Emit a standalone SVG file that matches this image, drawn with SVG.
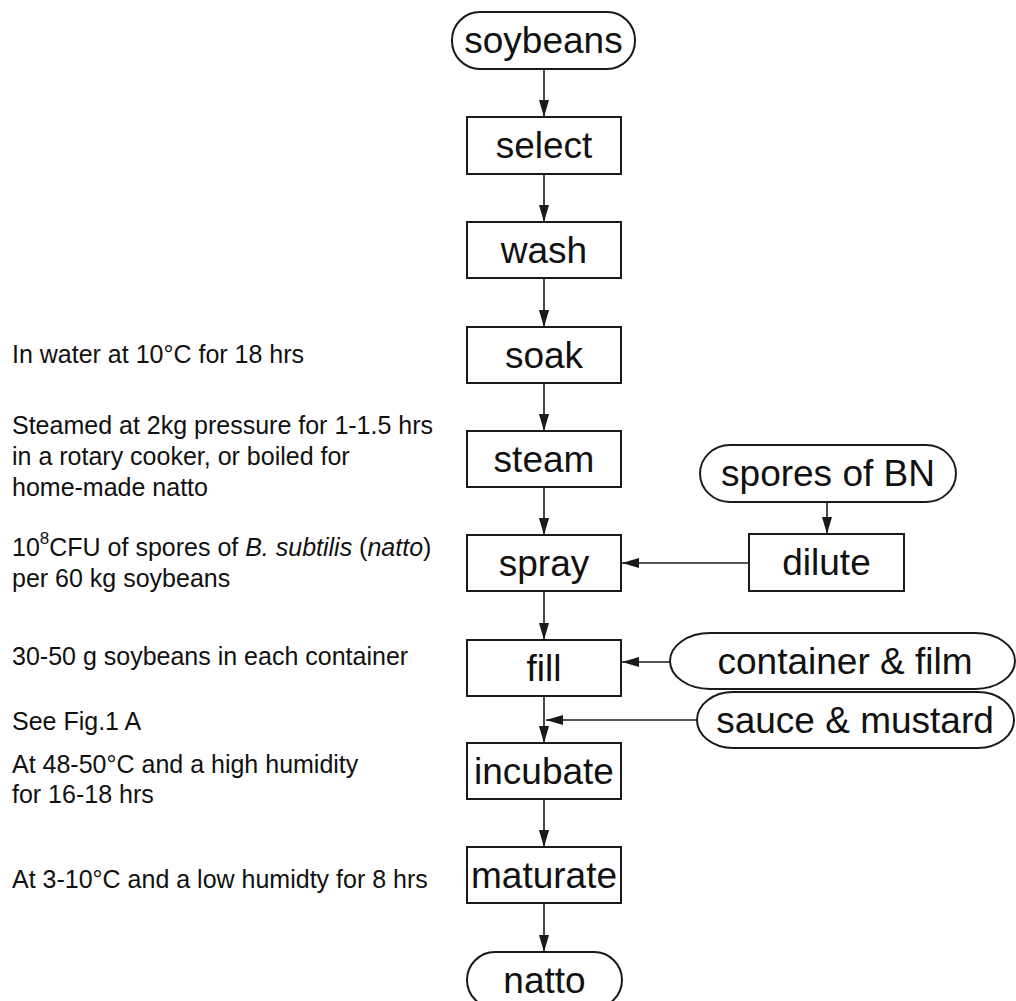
<svg xmlns="http://www.w3.org/2000/svg" width="1016" height="1001" viewBox="0 0 1016 1001">
<style>
.box{fill:#fff;stroke:#1a1a1a;stroke-width:2}
.lbl{font-family:"Liberation Sans",Arial,sans-serif;font-size:37px;fill:#111;text-anchor:middle}
.note{font-family:"Liberation Sans",Arial,sans-serif;font-size:25px;fill:#111}
.edge{stroke:#1a1a1a;stroke-width:1.6;fill:none;marker-end:url(#ah)}
</style>
<defs>
<marker id="ah" markerWidth="17" markerHeight="10" refX="17" refY="5" orient="auto" markerUnits="userSpaceOnUse">
<path d="M0,0 L17,5 L0,10 z" fill="#1a1a1a"/>
</marker>
</defs>
<rect width="1016" height="1001" fill="#fff"/>

<g id="connectors">
<line class="edge" x1="544" y1="69" x2="544" y2="117"/>
<line class="edge" x1="544" y1="174" x2="544" y2="222"/>
<line class="edge" x1="544" y1="278" x2="544" y2="327"/>
<line class="edge" x1="544" y1="383" x2="544" y2="431"/>
<line class="edge" x1="544" y1="487" x2="544" y2="535"/>
<line class="edge" x1="544" y1="591" x2="544" y2="640"/>
<line class="edge" x1="544" y1="696" x2="544" y2="743"/>
<line class="edge" x1="544" y1="799" x2="544" y2="847"/>
<line class="edge" x1="544" y1="903" x2="544" y2="952"/>
<line class="edge" x1="827" y1="502" x2="827" y2="534"/>
<line class="edge" x1="749" y1="563" x2="622" y2="563"/>
<line class="edge" x1="670" y1="662" x2="622" y2="662"/>
<line class="edge" x1="697" y1="720" x2="546" y2="720"/>
</g>

<g id="soybeans"><rect class="box" x="452" y="12" width="183" height="57" rx="28" ry="28"/><text class="lbl" x="543.5" y="53">soybeans</text></g>
<g id="select"><rect class="box" x="467" y="117" width="154" height="57"/><text class="lbl" x="544" y="158">select</text></g>
<g id="wash"><rect class="box" x="467" y="222" width="154" height="56"/><text class="lbl" x="544" y="263">wash</text></g>
<g id="soak"><rect class="box" x="467" y="327" width="154" height="56"/><text class="lbl" x="544" y="368">soak</text></g>
<g id="steam"><rect class="box" x="467" y="431" width="154" height="56"/><text class="lbl" x="544" y="472">steam</text></g>
<g id="spray"><rect class="box" x="467" y="535" width="154" height="56"/><text class="lbl" x="544" y="576">spray</text></g>
<g id="fill"><rect class="box" x="467" y="640" width="154" height="56"/><text class="lbl" x="544" y="681">fill</text></g>
<g id="incubate"><rect class="box" x="467" y="743" width="154" height="56"/><text class="lbl" x="544" y="784">incubate</text></g>
<g id="maturate"><rect class="box" x="467" y="847" width="154" height="56"/><text class="lbl" x="544" y="888">maturate</text></g>
<g id="natto"><rect class="box" x="467" y="952" width="155" height="56" rx="28" ry="28"/><text class="lbl" x="544.5" y="993">natto</text></g>

<g id="spores"><path class="box" d="M730,445 H926 A30 28.5 0 0 1 926,502 H730 A30 28.5 0 0 1 730,445 Z"/><text class="lbl" x="828" y="486">spores of BN</text></g>
<g id="dilute"><rect class="box" x="749" y="534" width="155" height="57"/><text class="lbl" x="826.5" y="575">dilute</text></g>
<g id="container"><path class="box" d="M710,633 H975 A40 28 0 0 1 975,689 H710 A40 28 0 0 1 710,633 Z"/><text class="lbl" x="845" y="674">container &amp; film</text></g>
<g id="sauce"><path class="box" d="M733,692 H978 A36 28 0 0 1 978,748 H733 A36 28 0 0 1 733,692 Z"/><text class="lbl" x="855" y="733">sauce &amp; mustard</text></g>

<g id="notes">
<text class="note" x="12" y="363">In water at 10°C for 18 hrs</text>
<text class="note" x="12" y="434">Steamed at 2kg pressure for 1-1.5 hrs</text>
<text class="note" x="12" y="465">in a rotary cooker, or boiled for</text>
<text class="note" x="12" y="496">home-made natto</text>
<text class="note" x="12" y="556">10<tspan font-size="17" dy="-12">8</tspan><tspan dy="12">CFU of spores of </tspan><tspan font-style="italic">B. subtilis</tspan> (<tspan font-style="italic">natto</tspan>)</text>
<text class="note" x="12" y="587">per 60 kg soybeans</text>
<text class="note" x="12" y="665">30-50 g soybeans in each container</text>
<text class="note" x="12" y="730">See Fig.1 A</text>
<text class="note" x="12" y="773">At 48-50°C and a high humidity</text>
<text class="note" x="12" y="803">for 16-18 hrs</text>
<text class="note" x="12" y="888">At 3-10°C and a low humidty for 8 hrs</text>
</g>
</svg>
